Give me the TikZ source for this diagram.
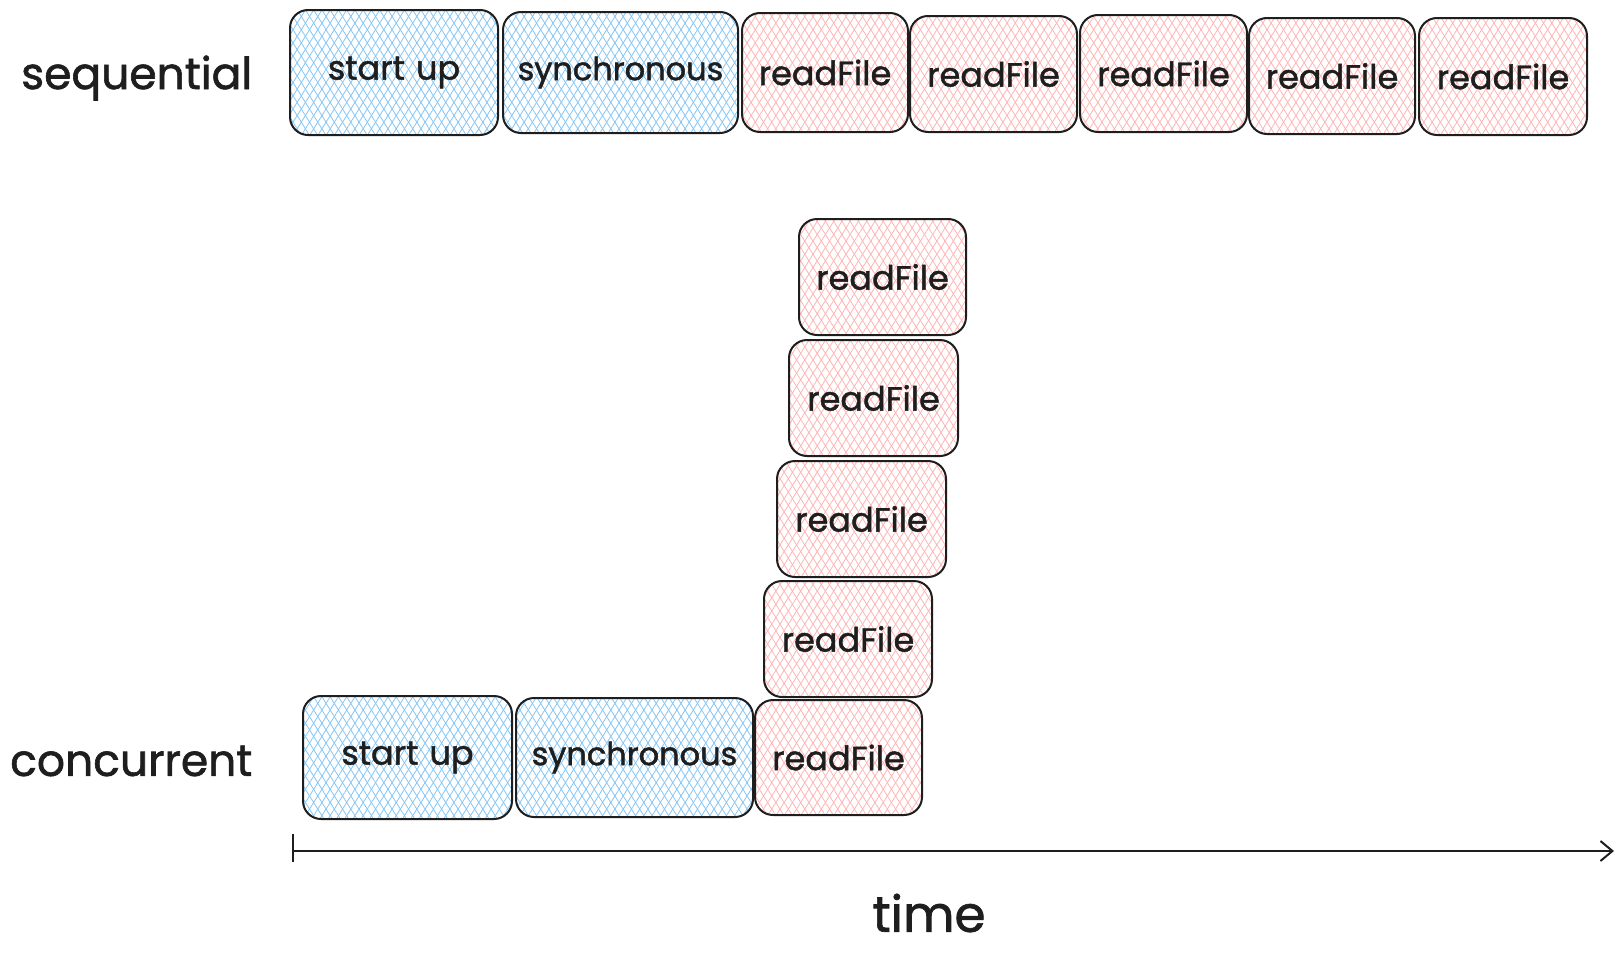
\documentclass[tikz,border=0pt]{standalone}
\usepackage{fontspec}
\setmainfont{Poppins}[FakeBold=1.4]
\usetikzlibrary{patterns.meta,arrows.meta}
\definecolor{ink}{HTML}{1E1E1E}
\definecolor{hatchblue}{HTML}{84C5F5}
\definecolor{hatchpink}{HTML}{FFB3B3}
\tikzset{
  box/.style={draw=ink, line width=2pt, rounded corners=18pt, inner sep=0pt,
    font=\fontsize{33.5}{38}\selectfont, text=ink},
  bluebox/.style={box,
    pattern={Lines[angle=58,distance=7pt,line width=0.8pt]}, pattern color=hatchblue,
    preaction={pattern={Lines[angle=-58,distance=7pt,line width=0.8pt]}, pattern color=hatchblue}},
  pinkbox/.style={box,
    pattern={Lines[angle=58,distance=7pt,line width=0.8pt]}, pattern color=hatchpink,
    preaction={pattern={Lines[angle=-58,distance=7pt,line width=0.8pt]}, pattern color=hatchpink}},
  rowlabel/.style={anchor=west, inner sep=0pt, font=\fontsize{44}{48}\selectfont, text=ink},
  axis/.style={draw=ink, line width=2pt},
}
\newcommand{\bx}[6]{\node[#1, minimum width=#4pt, minimum height=#5pt] (#2) at #3 {#6};}
\begin{document}
\begin{tikzpicture}[x=1pt,y=-1pt]
\useasboundingbox (0,0) rectangle (1624,961);
% row labels
\node[rowlabel] (lseq) at (21,78) {sequential};
\node[rowlabel] (lconc) at (10,761) {concurrent};
% sequential row
\bx{bluebox}{s1}{(394,72.5)}{208}{125}{start\,\,up}
\bx{bluebox}{s2}{(620.5,72.5)}{235}{121}{\fontsize{32}{36}\selectfont synchronous}
\bx{pinkbox}{r1}{(825,72.5)}{166}{119}{readFile}
\bx{pinkbox}{r2}{(993.5,74)}{167}{116}{readFile}
\bx{pinkbox}{r3}{(1163.5,73.5)}{167}{117}{readFile}
\bx{pinkbox}{r4}{(1332,76)}{166}{116}{readFile}
\bx{pinkbox}{r5}{(1503,76.5)}{168}{117}{readFile}
% concurrent stack
\bx{pinkbox}{c1}{(882.5,277)}{167}{116}{readFile}
\bx{pinkbox}{c2}{(873.5,398)}{169}{116}{readFile}
\bx{pinkbox}{c3}{(861.5,519)}{169}{116}{readFile}
\bx{pinkbox}{c4}{(848,639)}{168}{116}{readFile}
\bx{pinkbox}{c5}{(838.5,757.5)}{167}{115}{readFile}
\bx{bluebox}{cs1}{(407.5,757.5)}{209}{123}{start\,\,up}
\bx{bluebox}{cs2}{(634.5,757.5)}{237}{119}{\fontsize{32}{36}\selectfont synchronous}
% time axis
\coordinate (axL) at (293,851);
\coordinate (axR) at (1614,851);
\coordinate (tickT) at (293,834);
\coordinate (tickB) at (293,862);
\draw[axis] (tickT) -- (tickB);
\draw[axis, -{Straight Barb[length=12pt,width=20pt,line width=2pt]}] (axL) -- (axR);
\node[inner sep=0pt, font=\fontsize{50}{56}\selectfont, text=ink] (time) at (929,913) {time};
\end{tikzpicture}
\end{document}
